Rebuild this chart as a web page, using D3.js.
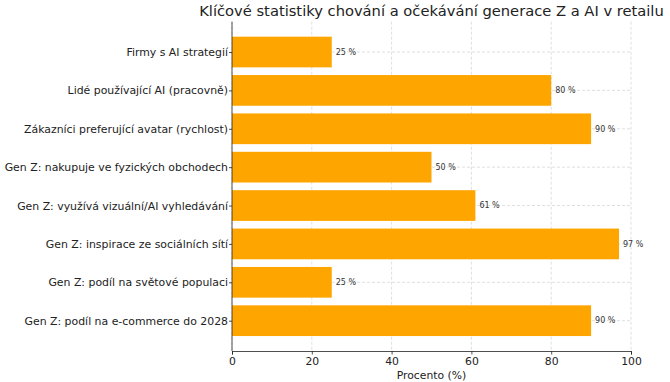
<!DOCTYPE html>
<html><head><meta charset="utf-8">
<script src="https://cdn.jsdelivr.net/npm/d3@7"></script>
<style>body{margin:0;background:#fff}svg{display:block}text{font-family:"DejaVu Sans",sans-serif}</style>
</head><body><svg id="c" width="670" height="382"></svg>
<script>
const categories = ["Firmy s AI strategií","Lidé používající AI (pracovně)","Zákazníci preferující avatar (rychlost)","Gen Z: nakupuje ve fyzických obchodech","Gen Z: využívá vizuální/AI vyhledávání","Gen Z: inspirace ze sociálních sítí","Gen Z: podíl na světové populaci","Gen Z: podíl na e-commerce do 2028"];
const values = [25,80,90,50,61,97,25,90];
const xTicks = [0,20,40,60,80,100];
const title = "Klíčové statistiky chování a očekávání generace Z a AI v retailu";
const xLabel = "Procento (%)";

const svg = d3.select("#c");
const L=232,R=631,T=21.7,B=351;
const x = d3.scaleLinear().domain([0,100]).range([L,R]);
const n = categories.length;
const y = d3.scaleLinear().domain([-0.79, n-1+0.79]).range([T,B]);

// grid
const g = svg.append("g");
g.selectAll("line.v").data(xTicks).join("line")
 .attr("x1",d=>x(d)).attr("x2",d=>x(d)).attr("y1",T).attr("y2",B)
 .attr("stroke","#b0b0b0").attr("stroke-opacity",0.5).attr("stroke-width",0.8).attr("stroke-dasharray","3,2");
g.selectAll("line.h").data(categories).join("line")
 .attr("x1",L).attr("x2",R).attr("y1",(d,i)=>y(i)).attr("y2",(d,i)=>y(i))
 .attr("stroke","#b0b0b0").attr("stroke-opacity",0.5).attr("stroke-width",0.8).attr("stroke-dasharray","3,2");

const bw = (y(1)-y(0))*0.8;
svg.selectAll("rect.bar").data(values).join("rect")
 .attr("x",x(0)).attr("y",(d,i)=>y(i)-bw/2).attr("width",d=>x(d)-x(0)).attr("height",bw)
 .attr("fill","#FFA500");

svg.selectAll("text.val").data(values).join("text")
 .attr("x",d=>x(d+1)).attr("y",(d,i)=>y(i)).attr("dy","0.35em")
 .attr("font-size",8).attr("fill","#333").text(d=>d+" %");

// axes
const xa = svg.append("g").attr("transform",`translate(0,${B})`)
 .call(d3.axisBottom(x).tickValues(xTicks).tickSize(3.5).tickPadding(3));
xa.select(".domain").attr("stroke","#222").attr("stroke-width",0.8);
xa.selectAll(".tick line").attr("stroke","#222").attr("stroke-width",0.8);
xa.selectAll(".tick text").attr("font-size",10.8).attr("fill","#222").attr("font-family","DejaVu Sans");

const ya = svg.append("g").attr("transform",`translate(${L},0)`)
 .call(d3.axisLeft(y).tickValues(d3.range(n)).tickFormat(i=>categories[i]).tickSize(3).tickPadding(1));
ya.select(".domain").attr("stroke","#222").attr("stroke-width",0.8).attr("d",`M-0,${T}V${B}`);
ya.selectAll(".tick line").attr("stroke","#222").attr("stroke-width",0.8);
ya.selectAll(".tick text").attr("font-size",10.9).attr("fill","#222").attr("font-family","DejaVu Sans");

svg.append("text").attr("x",(L+R)/2).attr("y",B+27.5).attr("text-anchor","middle")
 .attr("font-size",10.8).attr("fill","#222").text(xLabel);
svg.append("text").attr("x",(L+R)/2).attr("y",16).attr("text-anchor","middle")
 .attr("font-size",14.7).attr("fill","#222").text(title);
</script></body></html>
